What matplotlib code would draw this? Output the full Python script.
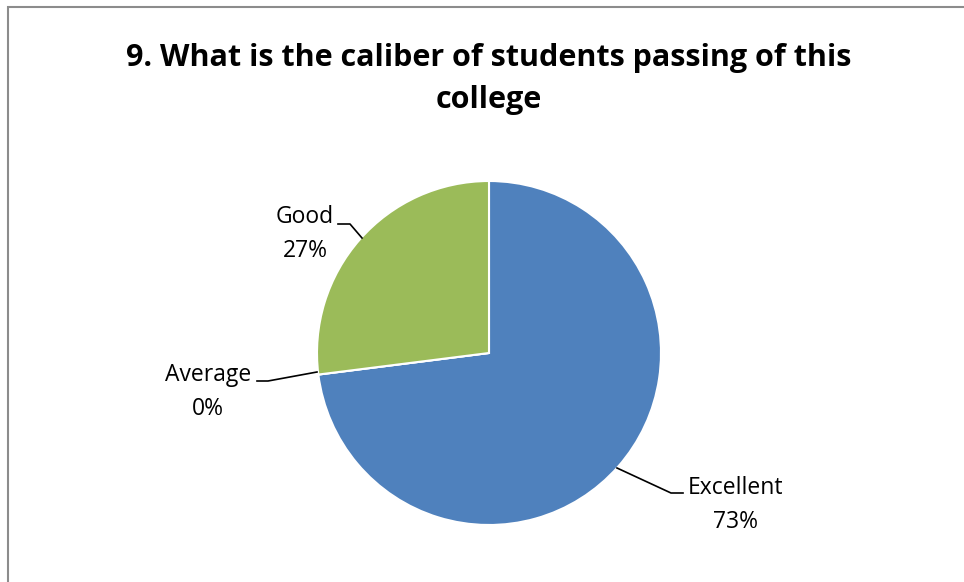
import matplotlib.pyplot as plt
from matplotlib.patches import Rectangle

categories = ['Excellent', 'Average', 'Good']
shares = [73, 0, 27]
colores = ['#4F81BD', '#C0504D', '#9BBB59']

W, H = 964, 582
fig = plt.figure(figsize=(W / 100, H / 100), dpi=100)
ax = fig.add_axes([0, 0, 1, 1])
ax.set_xlim(0, W)
ax.set_ylim(0, H)
ax.set_aspect('equal')
ax.axis('off')

# marco gris (solo se ve arriba e izquierda)
ax.add_patch(Rectangle((8, -10), W + 20, H - 7 + 10, fill=False,
                       edgecolor='#8C8C8C', linewidth=1.5))

cx, cy, r = 489, H - 353, 172
ax.pie(shares, colors=colores, startangle=90, counterclock=False,
       center=(cx, cy), radius=r, frame=True,
       wedgeprops=dict(edgecolor='white', linewidth=1.5))
ax.set_xlim(0, W)
ax.set_ylim(0, H)
ax.axis('off')

fs = 16.5
fam = ['Open Sans', 'DejaVu Sans']
ax.text(489, H - 79, '9. What is the caliber of students passing of this\ncollege',
        ha='center', va='center', fontsize=22, fontweight='bold',
        family=fam, linespacing=1.5)

# etiquetas con lineas guia
ax.text(305, H - 234, 'Good\n27%', ha='center', va='center', fontsize=fs,
        family=fam, linespacing=1.55)
ax.plot([338, 350, 362], [H - 224, H - 224, H - 238], color='black', lw=1.2)

ax.text(208, H - 392, 'Average\n0%', ha='center', va='center', fontsize=fs,
        family=fam, linespacing=1.6)
ax.plot([257, 268, 317], [H - 381, H - 381, H - 372], color='black', lw=1.2)

ax.text(736, H - 505, 'Excellent\n73%', ha='center', va='center', fontsize=fs,
        family=fam, linespacing=1.6)
ax.plot([617, 671, 683], [H - 468, H - 493, H - 493], color='black', lw=1.2)

fig.savefig('out.png', dpi=100)
